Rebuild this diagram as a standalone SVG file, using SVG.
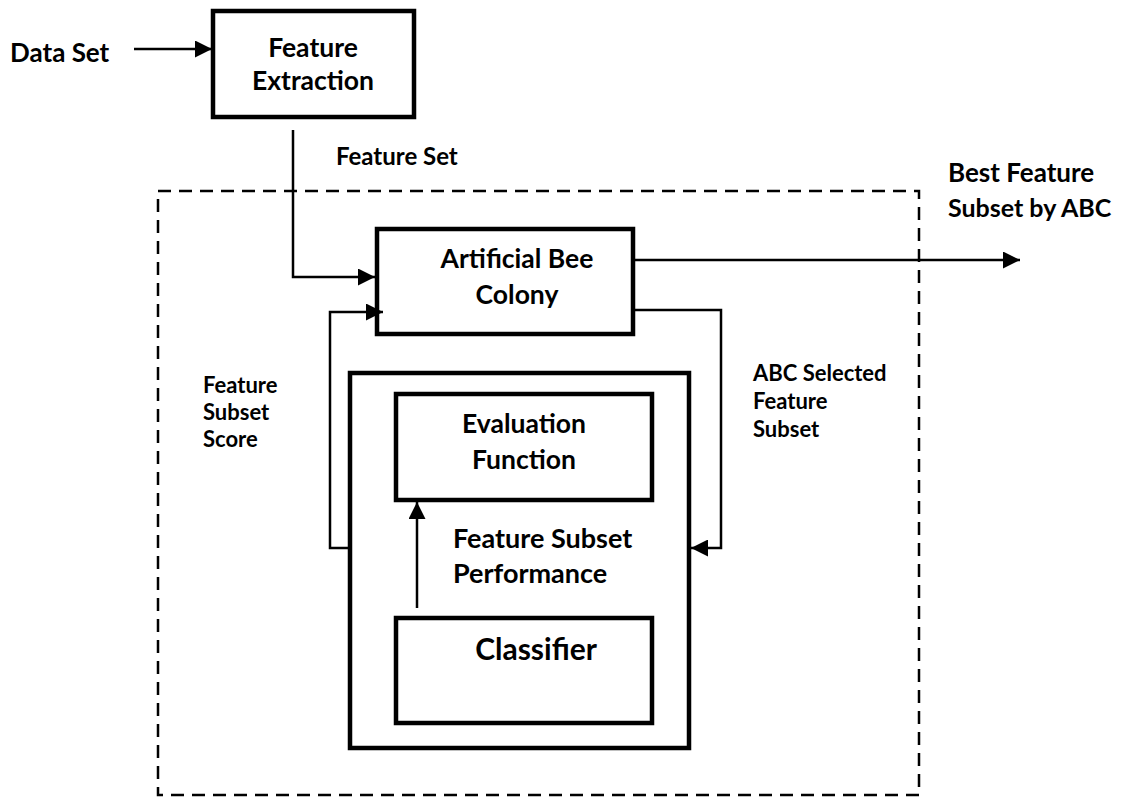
<svg xmlns="http://www.w3.org/2000/svg" width="1128" height="799" viewBox="0 0 1128 799">
<style>
.box{fill:none;stroke:#000;stroke-width:4.5}
.ln{fill:none;stroke:#000;stroke-width:2.5}
.t{font-family:Lato,"Open Sans",sans-serif;font-weight:bold;fill:#000}
.l{font-size:26.5px;text-anchor:middle}
.s{font-size:22px}
</style>
<defs>
<marker id="ah" viewBox="0 0 10 10" refX="10" refY="5" markerWidth="17" markerHeight="17" markerUnits="userSpaceOnUse" orient="auto">
<path d="M0,0 L10,5 L0,10 Z" fill="#000"/>
</marker>
</defs>
<rect x="0" y="0" width="1128" height="799" fill="#fff"/>
<g id="boundary">
<rect x="158" y="191" width="761" height="604" fill="none" stroke="#000" stroke-width="2.5" stroke-dasharray="13,8"/>
</g>
<g id="connectors">
<line class="ln" x1="134" y1="49" x2="212" y2="49" marker-end="url(#ah)"/>
<polyline class="ln" points="293,130 293,277 375,277" marker-end="url(#ah)"/>
<line class="ln" x1="635" y1="260" x2="1020" y2="260" stroke-width="3" marker-end="url(#ah)"/>
<polyline class="ln" points="635,310 721,310 721,548 691,548" marker-end="url(#ah)"/>
<polyline class="ln" points="349,548 330,548 330,312 383,312" marker-end="url(#ah)"/>
<line class="ln" x1="417" y1="608" x2="417" y2="502" marker-end="url(#ah)"/>
</g>
<g id="data-set"><text class="t" x="10" y="62" font-size="26">Data Set</text></g>
<g id="feature-extraction">
<rect class="box" x="213" y="11" width="201" height="106"/>
<text class="t l" x="313" y="57">Feature</text>
<text class="t l" x="313" y="90">Extraction</text>
</g>
<g id="feature-set-label"><text class="t" x="336" y="165" font-size="24">Feature Set</text></g>
<g id="abc">
<rect class="box" x="377" y="229" width="256" height="105"/>
<text class="t l" x="517" y="268">Artificial Bee</text>
<text class="t l" x="517" y="304">Colony</text>
</g>
<g id="best-label">
<text class="t" x="948" y="182" font-size="26">Best Feature</text>
<text class="t" x="948" y="217" font-size="25">Subset by ABC</text>
</g>
<g id="score-label">
<text class="t s" x="203" y="393">Feature</text>
<text class="t s" x="203" y="420">Subset</text>
<text class="t s" x="203" y="447">Score</text>
</g>
<g id="selected-label">
<text class="t s" x="753" y="381">ABC Selected</text>
<text class="t s" x="753" y="409">Feature</text>
<text class="t s" x="753" y="437">Subset</text>
</g>
<g id="evaluator">
<rect class="box" x="350" y="373" width="339" height="375"/>
</g>
<g id="evaluation-function">
<rect class="box" x="396" y="394" width="256" height="106"/>
<text class="t l" x="524" y="433">Evaluation</text>
<text class="t l" x="524" y="469">Function</text>
</g>
<g id="performance-label">
<text class="t" x="453" y="548" font-size="27">Feature Subset</text>
<text class="t" x="453" y="583" font-size="27">Performance</text>
</g>
<g id="classifier">
<rect class="box" x="396" y="618" width="256" height="105"/>
<text class="t" x="536" y="660" font-size="30" text-anchor="middle">Classifier</text>
</g>
</svg>
